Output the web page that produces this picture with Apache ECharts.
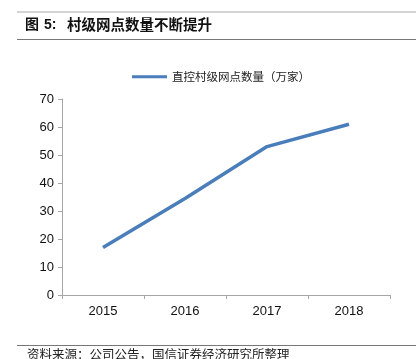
<!DOCTYPE html>
<html><head><meta charset="utf-8">
<script src="https://cdn.jsdelivr.net/npm/echarts@6/dist/echarts.min.js"></script>
<style>html,body{margin:0;padding:0;background:#fff}#c{width:416px;height:359px}</style>
</head><body><div id="c"></div>
<script>
var categories = ['2015','2016','2017','2018'];
var seriesName = '直控村级网点数量（万家）';
var values = [17, 34.5, 53, 61];
var yTicks = {min:0, max:70, interval:10};

var chart = echarts.init(document.getElementById('c'));
chart.setOption({
  animation:false,
  grid:{left:62, right:26, top:99, bottom:64, containLabel:false},
  legend:{top:66, left:127, itemWidth:35, itemHeight:3, itemGap:3, icon:'rect',
    textStyle:{fontFamily:'Noto Sans CJK SC', fontSize:11.5, color:'#222'},
    data:[seriesName]},
  xAxis:{type:'category', data:categories, boundaryGap:true,
    axisLine:{lineStyle:{color:'#a6a6a6', width:1}},
    axisTick:{show:true, length:4, lineStyle:{color:'#a6a6a6'}},
    axisLabel:{fontFamily:'Liberation Sans', fontSize:13, color:'#111', margin:10}},
  yAxis:{type:'value', min:yTicks.min, max:yTicks.max, interval:yTicks.interval,
    splitLine:{show:false},
    axisLine:{show:true, lineStyle:{color:'#a6a6a6', width:1}},
    axisTick:{show:true, length:4, lineStyle:{color:'#a6a6a6'}},
    axisLabel:{fontFamily:'Liberation Sans', fontSize:13, color:'#111', margin:8}},
  series:[{name:seriesName, type:'line', data:values, symbol:'none',
    lineStyle:{color:'#4a7ebb', width:3.5}, itemStyle:{color:'#4a7ebb'}}],
  graphic:[
    {type:'line', shape:{x1:17,y1:12,x2:416,y2:12}, style:{stroke:'#aaa', lineWidth:1}},
    {type:'line', shape:{x1:17,y1:39.5,x2:416,y2:39.5}, style:{stroke:'#777', lineWidth:1}},
    {type:'text', left:25, top:17, style:{text:'图', fontFamily:'Noto Sans CJK SC', fontSize:14, fontWeight:'bold', fill:'#111'}},
    {type:'text', left:44, top:18, style:{text:'5:', fontFamily:'Liberation Sans', fontSize:14, fontWeight:'bold', fill:'#111'}},
    {type:'text', left:67, top:17, style:{text:'村级网点数量不断提升', fontFamily:'Noto Sans CJK SC', fontSize:14.5, fontWeight:'bold', fill:'#111'}},
    {type:'line', shape:{x1:17,y1:345.5,x2:416,y2:345.5}, style:{stroke:'#777', lineWidth:1}},
    {type:'text', left:27, top:348, style:{text:'资料来源：公司公告，国信证券经济研究所整理', fontFamily:'Noto Sans CJK SC', fontSize:12.5, fill:'#222'}}
  ]
});
</script></body></html>
